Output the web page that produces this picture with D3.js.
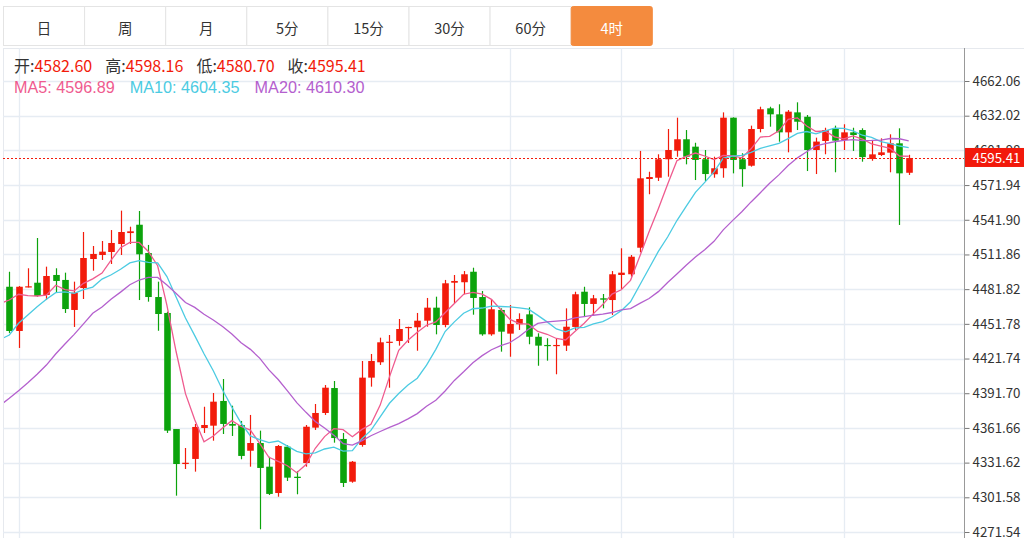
<!DOCTYPE html>
<html>
<head>
<meta charset="utf-8">
<script src="https://cdn.jsdelivr.net/npm/d3@7"></script>
<style>
  body { margin: 0; background: #fff; overflow: hidden; }
  svg { display: block; }
</style>
</head>
<body>
<div id="chart-area"></div>
<script>
// period tabs
const tabs = ["日", "周", "月", "5分", "15分", "30分", "60分", "4时"];
const activeTab = "4时";

// right axis tick labels
const yTicks = [4271.54, 4301.58, 4331.62, 4361.66, 4391.70, 4421.74, 4451.78,
                4481.82, 4511.86, 4541.90, 4571.94, 4601.98, 4632.02, 4662.06];

// closes before the visible window (only feed the moving averages)
const priorCloses = [4321.6, 4351.9, 4346.3, 4329.9, 4333.2, 4296.9, 4292.6, 4310.8, 4328.8, 4328.3,
                     4406.3, 4381.9, 4412.3, 4404.9, 4429.2, 4430.7, 4458.9, 4490.3, 4477.4, 4489.8];

// 4h candles
const opens = [
  4483.9, 4445.6, 4483.4, 4487.4, 4476.8, 4494.1, 4489.8, 4463.8, 4482.8, 4507.9,
  4511.4, 4514.0, 4520.9, 4530.4, 4537.6, 4513.1, 4475.0, 4461.2, 4360.7, 4330.4,
  4334.8, 4361.6, 4363.6, 4385.0, 4365.1, 4364.2, 4341.9, 4348.6, 4328.1, 4305.3,
  4345.4, 4319.4, 4331.3, 4361.9, 4374.6, 4396.2, 4352.1, 4315.1, 4346.9, 4405.2,
  4418.5, 4435.5, 4436.9, 4448.2, 4448.8, 4454.5, 4465.8, 4450.8, 4487.4, 4487.8,
  4496.9, 4475.0, 4442.7, 4463.8, 4443.3, 4451.4, 4460.0, 4440.6, 4433.5, 4432.6,
  4432.9, 4449.1, 4479.6, 4469.0, 4473.9, 4472.4, 4494.1, 4494.7, 4517.7, 4577.2,
  4578.3, 4594.3, 4601.7, 4611.6, 4605.2, 4594.3, 4581.3, 4586.5, 4630.3, 4594.3,
  4588.7, 4620.5, 4638.4, 4633.2, 4617.6, 4634.9, 4631.1, 4602.3, 4610.1, 4621.1,
  4611.0, 4617.6, 4619.6, 4594.5, 4598.0, 4600.0, 4608.1, 4582.60
];
const highs = [
  4496.9, 4484.5, 4499.9, 4526.1, 4501.3, 4499.9, 4496.1, 4488.3, 4531.3, 4519.2,
  4523.5, 4533.0, 4549.8, 4535.9, 4549.5, 4520.1, 4488.3, 4462.3, 4360.7, 4344.3,
  4365.1, 4380.0, 4391.9, 4404.0, 4380.9, 4367.7, 4372.9, 4359.3, 4336.7, 4346.9,
  4346.9, 4324.4, 4364.2, 4382.4, 4398.8, 4402.3, 4357.3, 4333.0, 4419.6, 4425.7,
  4439.8, 4442.1, 4456.0, 4449.3, 4461.2, 4474.2, 4475.3, 4489.8, 4494.1, 4497.5,
  4500.4, 4480.2, 4473.3, 4465.2, 4468.1, 4460.9, 4466.1, 4443.6, 4439.3, 4439.3,
  4465.2, 4479.6, 4483.9, 4476.8, 4477.6, 4497.5, 4517.2, 4511.4, 4601.5, 4583.5,
  4598.6, 4620.5, 4630.3, 4619.6, 4608.6, 4602.3, 4596.5, 4634.9, 4630.6, 4599.5,
  4623.4, 4639.8, 4639.8, 4641.9, 4636.9, 4643.6, 4632.6, 4613.0, 4621.6, 4623.4,
  4624.6, 4621.6, 4621.1, 4610.1, 4612.4, 4615.9, 4621.1, 4598.16
];
const lows = [
  4443.9, 4430.9, 4483.3, 4475.3, 4472.4, 4478.5, 4461.2, 4449.1, 4473.3, 4497.8,
  4507.1, 4503.6, 4511.4, 4520.9, 4472.4, 4471.0, 4445.8, 4357.3, 4303.0, 4326.1,
  4323.8, 4357.3, 4350.6, 4356.4, 4354.7, 4334.5, 4328.1, 4273.9, 4303.6, 4302.1,
  4315.7, 4304.2, 4328.1, 4359.9, 4372.9, 4348.9, 4310.5, 4314.2, 4345.4, 4397.4,
  4416.2, 4396.5, 4432.9, 4435.2, 4428.5, 4449.3, 4442.7, 4448.8, 4469.6, 4477.4,
  4459.7, 4441.5, 4441.5, 4427.7, 4423.3, 4446.5, 4434.1, 4415.5, 4419.9, 4408.1,
  4428.3, 4446.5, 4458.0, 4459.5, 4465.2, 4459.5, 4482.0, 4492.6, 4513.7, 4564.0,
  4575.5, 4579.2, 4596.5, 4589.9, 4576.3, 4575.5, 4578.3, 4578.3, 4582.1, 4570.5,
  4587.9, 4617.6, 4622.5, 4609.5, 4600.3, 4619.6, 4584.1, 4581.5, 4598.6, 4583.0,
  4602.3, 4601.5, 4592.2, 4593.0, 4597.1, 4583.0, 4537.4, 4580.70
];
const closes = [
  4445.6, 4483.9, 4484.3, 4475.9, 4493.2, 4488.9, 4464.6, 4478.8, 4508.8, 4512.3,
  4514.3, 4521.8, 4531.3, 4531.9, 4512.0, 4475.0, 4460.3, 4359.3, 4330.4, 4331.5,
  4362.5, 4364.2, 4384.4, 4365.1, 4363.6, 4337.4, 4348.6, 4327.0, 4304.5, 4346.0,
  4318.6, 4318.3, 4362.7, 4374.6, 4396.5, 4352.9, 4314.0, 4332.4, 4405.2, 4419.6,
  4435.8, 4436.3, 4447.3, 4449.1, 4454.5, 4465.8, 4450.8, 4486.9, 4488.9, 4494.7,
  4474.2, 4442.7, 4464.4, 4445.0, 4451.7, 4456.0, 4440.6, 4432.9, 4432.6, 4433.5,
  4449.3, 4477.4, 4469.0, 4473.9, 4472.7, 4494.7, 4496.1, 4509.9, 4577.8, 4578.9,
  4594.3, 4602.3, 4611.6, 4596.5, 4593.7, 4581.5, 4586.5, 4630.3, 4593.7, 4585.71,
  4620.5, 4637.6, 4633.2, 4617.6, 4635.5, 4626.8, 4602.3, 4609.6, 4619.6, 4610.4,
  4617.6, 4615.3, 4596.16, 4598.55, 4600.3, 4608.1, 4582.1, 4595.41
];

// candles where a vertical grid line sits
const gridCandles = [1, 54, 66, 78, 90];

const maPeriods = [5, 10, 20];
const maColors = ["#ef5b8f", "#4ccbe2", "#b460ce"];
const upColor = "#f21b0b", downColor = "#0ca30c";

let width = 1024, height = 538;
let plotLeft = 3, plotRight = 964, plotTop = 48, plotBottom = 538;

let svg = d3.select("#chart-area").append("svg")
    .attr("width", width)
    .attr("height", height)
    .style("font-family", "'Noto Sans CJK SC', 'Noto Sans', sans-serif");

// scales
let x = d3.scaleLinear().domain([0, opens.length - 1]).range([9.3, 908.7]);
let y = d3.scaleLinear().domain([yTicks[0], yTicks[yTicks.length - 1]]).range([532, 81]);

// ---- tabs ----
let tabW = 81.1;
let tabG = svg.append("g");
tabs.forEach(function(t, i) {
  let on = t === activeTab;
  tabG.append("rect")
    .attr("x", 3.5 + i * tabW).attr("y", 6.5)
    .attr("width", tabW).attr("height", 39)
    .attr("rx", on ? 2 : 0)
    .attr("fill", on ? "#f48b3e" : "#fff")
    .attr("stroke", on ? "#f48b3e" : "#e4e4e4");
  tabG.append("text")
    .attr("x", 3.5 + i * tabW + tabW / 2).attr("y", 27)
    .attr("text-anchor", "middle").attr("dominant-baseline", "central")
    .attr("font-size", 14.5)
    .attr("fill", on ? "#fff" : "#333")
    .text(t);
});

// ---- frame + grid ----
svg.append("line").attr("x1", plotLeft).attr("x2", width)
  .attr("y1", plotTop + 0.5).attr("y2", plotTop + 0.5).attr("stroke", "#e6e9ee");
svg.append("line").attr("x1", plotLeft + 0.5).attr("x2", plotLeft + 0.5)
  .attr("y1", plotTop).attr("y2", plotBottom).attr("stroke", "#e6e9ee");

svg.append("g").selectAll("line")
  .data(yTicks).enter().append("line")
  .attr("x1", plotLeft).attr("x2", plotRight)
  .attr("y1", d => Math.round(y(d)) + 0.5).attr("y2", d => Math.round(y(d)) + 0.5)
  .attr("stroke", "#e6ecf3").attr("stroke-width", 1.3);

svg.append("g").selectAll("line")
  .data(gridCandles).enter().append("line")
  .attr("x1", d => Math.round(x(d)) + 0.5).attr("x2", d => Math.round(x(d)) + 0.5)
  .attr("y1", plotTop).attr("y2", plotBottom)
  .attr("stroke", "#e6ecf3").attr("stroke-width", 1.3);

// ---- moving averages ----
let allCloses = priorCloses.concat(closes);
let offset = priorCloses.length;
function movingAvg(n) {
  let out = [];
  for (let j = offset - 1; j < allCloses.length; j++) {
    let s = d3.sum(allCloses.slice(j - n + 1, j + 1));
    out.push({ i: j - offset, v: s / n });
  }
  return out;
}
let maData = maPeriods.map(movingAvg);

svg.append("defs").append("clipPath").attr("id", "clip")
  .append("rect").attr("x", plotLeft + 1).attr("y", plotTop + 1)
  .attr("width", plotRight - plotLeft - 1).attr("height", plotBottom - plotTop);

let plot = svg.append("g").attr("clip-path", "url(#clip)");

let candles = opens.map(function(o, i) {
  return { i: i, o: o, h: highs[i], l: lows[i], c: closes[i] };
});

plot.selectAll(".wick")
  .data(candles).enter().append("line")
  .attr("class", "wick")
  .attr("x1", d => Math.round(x(d.i)) + 0.5).attr("x2", d => Math.round(x(d.i)) + 0.5)
  .attr("y1", d => y(d.h)).attr("y2", d => y(d.l))
  .attr("stroke", d => d.c >= d.o ? upColor : downColor)
  .attr("stroke-width", 1.2);

plot.selectAll(".body")
  .data(candles).enter().append("rect")
  .attr("class", "body")
  .attr("x", d => Math.round(x(d.i)) + 0.5 - 3.3)
  .attr("width", 6.6)
  .attr("y", d => y(Math.max(d.o, d.c)))
  .attr("height", d => Math.max(1.2, Math.abs(y(d.o) - y(d.c))))
  .attr("fill", d => d.c >= d.o ? upColor : downColor);

let line = d3.line().x(d => x(d.i)).y(d => y(d.v));
maData.forEach(function(m, k) {
  plot.append("path").datum(m)
    .attr("d", line)
    .attr("fill", "none")
    .attr("stroke", maColors[k])
    .attr("stroke-width", 1.3);
});

// ---- right axis ----
let axis = svg.append("g")
  .attr("transform", "translate(" + (plotRight + 0.5) + ",0)")
  .call(d3.axisRight(y).tickValues(yTicks).tickFormat(d => d.toFixed(2)).tickSize(5).tickSizeOuter(0).tickPadding(3));
axis.select(".domain").remove();
axis.selectAll(".tick line").attr("stroke", "#777");
axis.selectAll(".tick text").attr("fill", "#333").attr("font-size", 13.3)
  .style("font-family", "'Noto Sans CJK SC', sans-serif");
svg.append("line").attr("x1", plotRight + 0.5).attr("x2", plotRight + 0.5)
  .attr("y1", plotTop).attr("y2", plotBottom).attr("stroke", "#999");

// ---- last price ----
let last = candles[candles.length - 1];
let yl = y(last.c);
svg.append("line")
  .attr("x1", plotLeft).attr("x2", plotRight)
  .attr("y1", Math.round(yl) + 0.5).attr("y2", Math.round(yl) + 0.5)
  .attr("stroke", "#f21b0b").attr("stroke-dasharray", "2,2");
svg.append("rect")
  .attr("x", plotRight + 1).attr("y", yl - 10)
  .attr("width", width - plotRight - 1).attr("height", 19)
  .attr("fill", "#f2190b");
svg.append("text")
  .attr("x", plotRight + 8.5).attr("y", yl - 0.5)
  .attr("dominant-baseline", "central")
  .attr("font-size", 13.3).attr("fill", "#fff")
  .text(last.c.toFixed(2));

// ---- header text ----
let ohlc = [["开:", last.o], ["高:", last.h], ["低:", last.l], ["收:", last.c]];
let head = svg.append("text").attr("x", 14).attr("y", 72).attr("font-size", 16);
ohlc.forEach(function(p, k) {
  head.append("tspan").attr("fill", "#333").attr("dx", k ? 13 : 0).text(p[0]);
  head.append("tspan").attr("fill", upColor).text(p[1].toFixed(2));
});

let maHead = svg.append("text").attr("x", 14).attr("y", 93).attr("font-size", 16.2)
  .style("font-family", "'Liberation Sans', Arial, sans-serif");
maPeriods.forEach(function(n, k) {
  let v = maData[k][maData[k].length - 1].v;
  maHead.append("tspan").attr("fill", maColors[k]).attr("dx", k ? 15 : 0)
    .text("MA" + n + ": " + v.toFixed(2));
});
</script>
</body>
</html>
